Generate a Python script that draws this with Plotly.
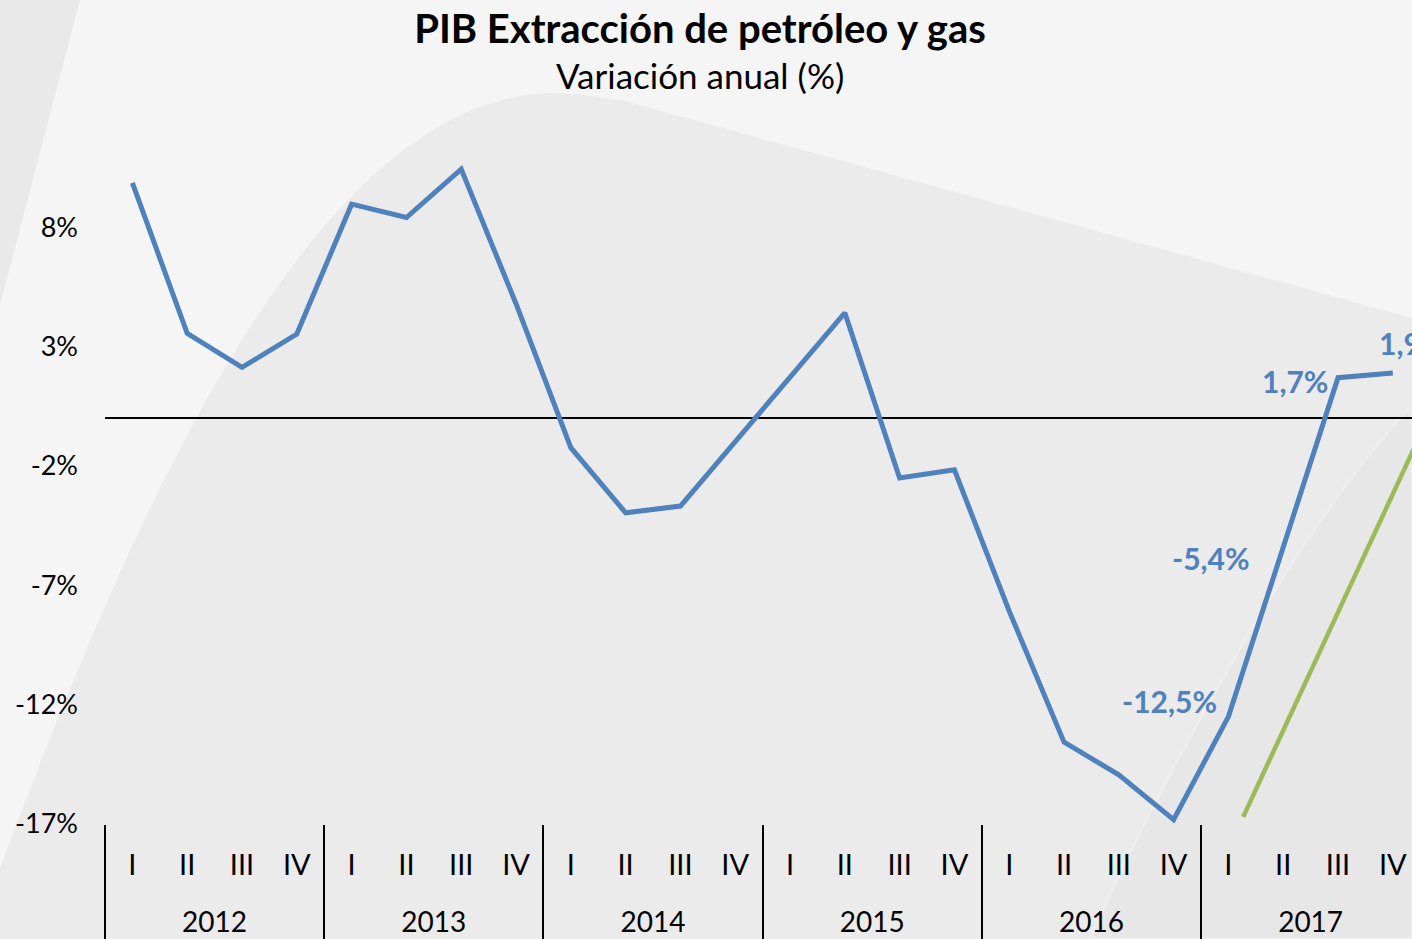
import plotly.graph_objects as go

# ---------------- data ----------------
anios = ["2012", "2013", "2014", "2015", "2016", "2017"]
trimestres = ["I", "II", "III", "IV"]
variacion = [9.86, 3.56, 2.13, 3.53,
             8.97, 8.41, 10.44, 4.8,
             -1.23, -3.96, -3.68, -1.0,
             1.75, 4.42, -2.5, -2.16,
             -8.08, -13.57, -14.94, -16.82,
             -12.5, -5.4, 1.7, 1.9]
etiquetas_idx = [20, 21, 22, 23]
etiquetas_txt = ["-12,5%", "-5,4%", "1,7%", "1,9%"]
verde_x = [20.27, 23.6]
verde_y = [-16.7, -0.2]
y_ticks = [8, 3, -2, -7, -12, -17]
y_ticktext = ["8%", "3%", "-2%", "-7%", "-12%", "-17%"]

# ---------------- layout constants ----------------
W, H = 1412, 939
ML, MR, MT, MB = 105, 0, 108, 115
PW, PH = W - ML - MR, H - MT - MB
FONT = "Lato"
AZUL = "#4f81bd"
VERDE = "#9bbb59"
NQ = len(trimestres)
XR = [-0.5, 23.35]

idx = list(range(len(variacion)))
q_text = [t for _ in anios for t in trimestres]
year_pos = [g * NQ + (NQ - 1) / 2 for g in range(len(anios))]
divisores = [g * NQ - 0.5 for g in range(len(anios) + 1)]


def px(x, y):
    return (x - ML) / PW, (H - MB - y) / PH


def path(cmds):
    out = []
    for c in cmds:
        if isinstance(c, str):
            out.append(c)
        else:
            xx, yy = px(*c)
            out.append(f"{xx:.5f},{yy:.5f}")
    return " ".join(out)


fig = go.Figure()
fig.add_trace(go.Scatter(
    x=idx, y=variacion, mode="lines",
    line=dict(color=AZUL, width=5), hoverinfo="skip"))
fig.add_trace(go.Scatter(
    x=verde_x, y=verde_y, mode="lines", xaxis="x2",
    line=dict(color=VERDE, width=4.5), hoverinfo="skip"))

shapes = [
    dict(type="path", xref="paper", yref="paper", layer="below",
         path=path(["M", (0, 0), "L", (80, 0), "L", (0, 305), "Z"]),
         fillcolor="#e9e9e9", line=dict(width=0)),
    dict(type="path", xref="paper", yref="paper", layer="below",
         path=path(["M", (-10, 939), "L", (-10, 895), "C", (115, 560), (300, 100), (550, 93),
                    "C", (575, 93), (600, 97), (625, 101), "L", (1412, 318),
                    "L", (1412, 939), "Z"]),
         fillcolor="#ebebeb", line=dict(width=0)),
    dict(type="path", xref="paper", yref="paper", layer="below",
         path=path(["M", (1090, 939), "C", (1150, 800), (1300, 520), (1412, 405),
                    "L", (1412, 939), "Z"]),
         fillcolor="#e7e7e7", line=dict(color="#eeeeee", width=3)),
]

# label placement (style)
lab_style = [
    dict(xanchor="right", xshift=-9, yshift=16),
    dict(xanchor="right", xshift=-31, yshift=-11),
    dict(xanchor="right", xshift=-8, yshift=-3),
    dict(xanchor="left", xshift=-16, yshift=30),
]
annotations = []
for i, txt, st in zip(etiquetas_idx, etiquetas_txt, lab_style):
    annotations.append(dict(
        x=i, y=variacion[i], xref="x", yref="y", text=f"<b>{txt}</b>",
        showarrow=False, yanchor="middle",
        font=dict(family=FONT, size=30, color=AZUL), **st))

annotations.append(dict(
    x=px(700, 0)[0], y=px(0, 75)[1], xref="paper", yref="paper",
    text="Variación anual (%)", showarrow=False, xanchor="center", yanchor="middle",
    font=dict(family=FONT, size=35, color="#000000")))

fig.update_layout(
    width=W, height=H,
    margin=dict(l=ML, r=MR, t=MT, b=MB, autoexpand=False),
    paper_bgcolor="#f5f5f5", plot_bgcolor="rgba(0,0,0,0)",
    showlegend=False,
    title=dict(text="<b>PIB Extracción de petróleo y gas</b>",
               x=700 / W, xanchor="center",
               y=1 - 29 / H, yanchor="middle", yref="container",
               font=dict(family=FONT, size=40, color="#000000")),
    xaxis=dict(range=XR, tickvals=idx, ticktext=q_text, showgrid=False,
               zeroline=False, showline=False, ticks="",
               ticklabelstandoff=21,
               minor=dict(tickvals=divisores, ticks="outside", ticklen=118,
                          tickcolor="#000000", tickwidth=1.5, showgrid=False),
               tickfont=dict(family=FONT, size=29, color="#000000"),
               automargin=False),
    xaxis2=dict(overlaying="x", range=XR, side="bottom", anchor="y",
                tickvals=year_pos, ticktext=anios, showgrid=False,
                zeroline=False, showline=False, ticks="",
                ticklabelstandoff=79,
                tickfont=dict(family=FONT, size=28, color="#000000"),
                automargin=False),
    yaxis=dict(range=[-17, 13], tickvals=y_ticks, ticktext=y_ticktext,
               showgrid=False, zeroline=True, zerolinecolor="#000000",
               zerolinewidth=1.5, showline=False, ticks="",
               ticklabelstandoff=26,
               tickfont=dict(family=FONT, size=27, color="#000000"),
               automargin=False),
    shapes=shapes,
    annotations=annotations,
)

fig.write_html("out.html", config={"displayModeBar": False},
               post_script="document.body.style.margin='0px';")
